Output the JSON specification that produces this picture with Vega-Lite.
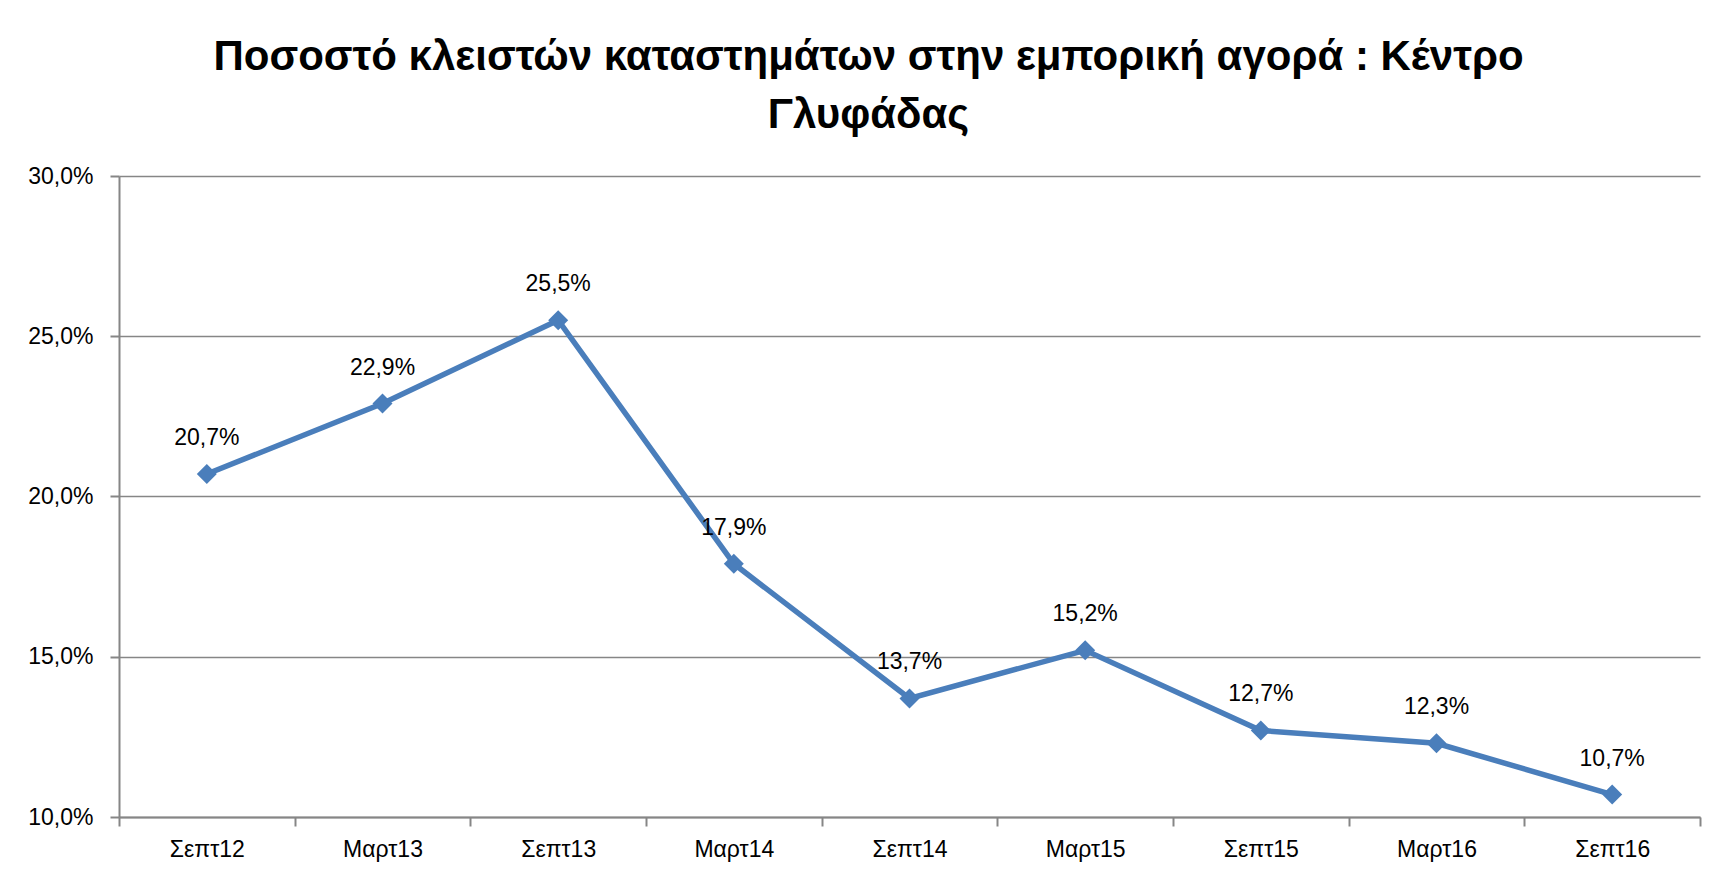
{
  "$schema": "https://vega.github.io/schema/vega-lite/v6.json",
  "width": 1581,
  "height": 641,
  "autosize": {"type": "none"},
  "padding": {"left": 119, "top": 176, "right": 22, "bottom": 61},
  "background": "white",
  "config": {
    "view": {"stroke": null},
    "font": "Liberation Sans",
    "locale": {"number": {"decimal": ",", "thousands": ".", "grouping": [3], "currency": ["", " €"]}}
  },
  "title": {
    "text": ["Ποσοστό κλειστών καταστημάτων στην εμπορική αγορά : Κέντρο", "Γλυφάδας"],
    "fontSize": 42,
    "fontWeight": "bold",
    "font": "Liberation Sans",
    "color": "#000000",
    "anchor": "middle",
    "frame": "group",
    "lineHeight": 58,
    "offset": 28,
    "dx": -41
  },
  "data": {
    "values": [
      {"period": "Σεπτ12", "value": 0.207},
      {"period": "Μαρτ13", "value": 0.229},
      {"period": "Σεπτ13", "value": 0.255},
      {"period": "Μαρτ14", "value": 0.179},
      {"period": "Σεπτ14", "value": 0.137},
      {"period": "Μαρτ15", "value": 0.152},
      {"period": "Σεπτ15", "value": 0.127},
      {"period": "Μαρτ16", "value": 0.123},
      {"period": "Σεπτ16", "value": 0.107}
    ]
  },
  "encoding": {
    "x": {
      "field": "period",
      "type": "ordinal",
      "sort": null,
      "scale": {"type": "band", "paddingInner": 0, "paddingOuter": 0},
      "axis": {
        "title": null,
        "labelAngle": 0,
        "labelFontSize": 23,
        "labelColor": "#000000",
        "labelPadding": 12,
        "domainColor": "#868686",
        "domainWidth": 2,
        "tickColor": "#868686",
        "tickWidth": 2,
        "tickSize": 9,
        "tickBand": "extent",
        "grid": false
      }
    },
    "y": {
      "field": "value",
      "type": "quantitative",
      "scale": {"domain": [0.10, 0.30], "nice": false, "zero": false},
      "axis": {
        "title": null,
        "values": [0.10, 0.15, 0.20, 0.25, 0.30],
        "format": ".1%",
        "labelFontSize": 23,
        "labelColor": "#000000",
        "labelPadding": 17,
        "domainColor": "#868686",
        "domainWidth": 2,
        "tickColor": "#868686",
        "tickWidth": 2,
        "tickSize": 9,
        "grid": true,
        "gridColor": "#868686",
        "gridWidth": 1.5
      }
    }
  },
  "layer": [
    {
      "mark": {"type": "line", "color": "#4A7EBB", "strokeWidth": 5.5},
      "encoding": {}
    },
    {
      "mark": {"type": "point", "shape": "diamond", "filled": true, "color": "#4A7EBB", "size": 400, "opacity": 1}
    },
    {
      "mark": {"type": "text", "fontSize": 23, "color": "#000000", "dy": -36},
      "encoding": {"text": {"field": "value", "type": "quantitative", "format": ".1%"}}
    }
  ]
}
